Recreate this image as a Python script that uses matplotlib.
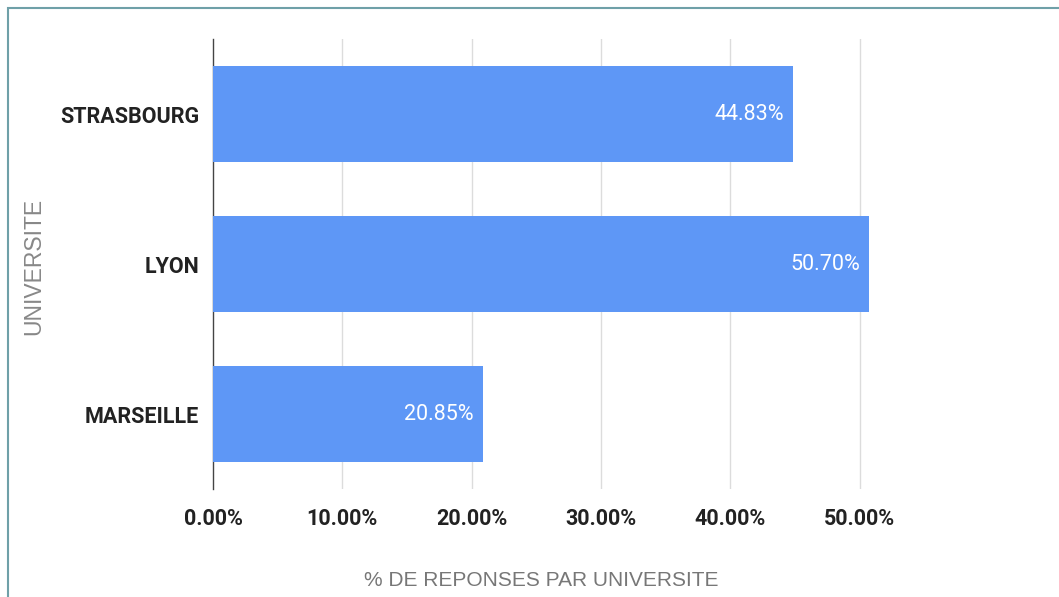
import matplotlib
matplotlib.use("Agg")
import matplotlib.pyplot as plt
from matplotlib.patches import Rectangle

# survey share per university
universites = ["STRASBOURG", "LYON", "MARSEILLE"]
pourcentages = [44.83, 50.70, 20.85]
ticks_x = [0, 10, 20, 30, 40, 50]

fig = plt.figure(figsize=(10.59, 5.97), dpi=100)
ax = fig.add_axes([213 / 1059, 1 - 489 / 597, (989 - 213) / 1059, 450 / 597])

# frame around the whole chart
fig.patches.append(Rectangle((8 / 1059, -0.1), 1.2, 1 - 8 / 597 + 0.1, transform=fig.transFigure,
                             fill=False, edgecolor="#6fa0a8", linewidth=1.5))

pos = list(range(len(universites)))
ax.barh(pos, pourcentages, height=0.645, color="#5e97f6", zorder=3)
for p, v in zip(pos, pourcentages):
    ax.text(v - 0.7, p, f"{v:.2f}%", ha="right", va="center", color="white",
            fontsize=15.5, family="Roboto", fontweight="normal", zorder=4)

ax.set_xlim(0, 60)
ax.set_ylim(2.5, -0.5)
ax.set_xticks(ticks_x)
ax.set_xticklabels([f"{t:.2f}%" for t in ticks_x])
ax.set_yticks(pos)
ax.set_yticklabels(universites)
for lbl in ax.get_xticklabels() + ax.get_yticklabels():
    lbl.set_family("Roboto")
    lbl.set_fontweight("bold")
    lbl.set_fontsize(15.5)
    lbl.set_color("#222222")
ax.tick_params(length=0)
ax.tick_params(axis="x", pad=14)
ax.tick_params(axis="y", pad=10)

for t in ticks_x[1:]:
    ax.axvline(t, color="#dcdcdc", linewidth=1, zorder=1)
for s in ["top", "right", "bottom"]:
    ax.spines[s].set_visible(False)
ax.spines["left"].set_color("#444444")
ax.spines["left"].set_linewidth(1)

fig.text(541 / 1059, 1 - 580 / 597, "% DE REPONSES PAR UNIVERSITE", ha="center", va="center",
         fontsize=15, color="#777777", family="Liberation Sans")
fig.text(34 / 1059, 1 - 266 / 597, "UNIVERSITE", ha="center", va="center", rotation=90,
         fontsize=16.5, color="#888888", family="Liberation Sans")

fig.savefig("out.png", dpi=100)
